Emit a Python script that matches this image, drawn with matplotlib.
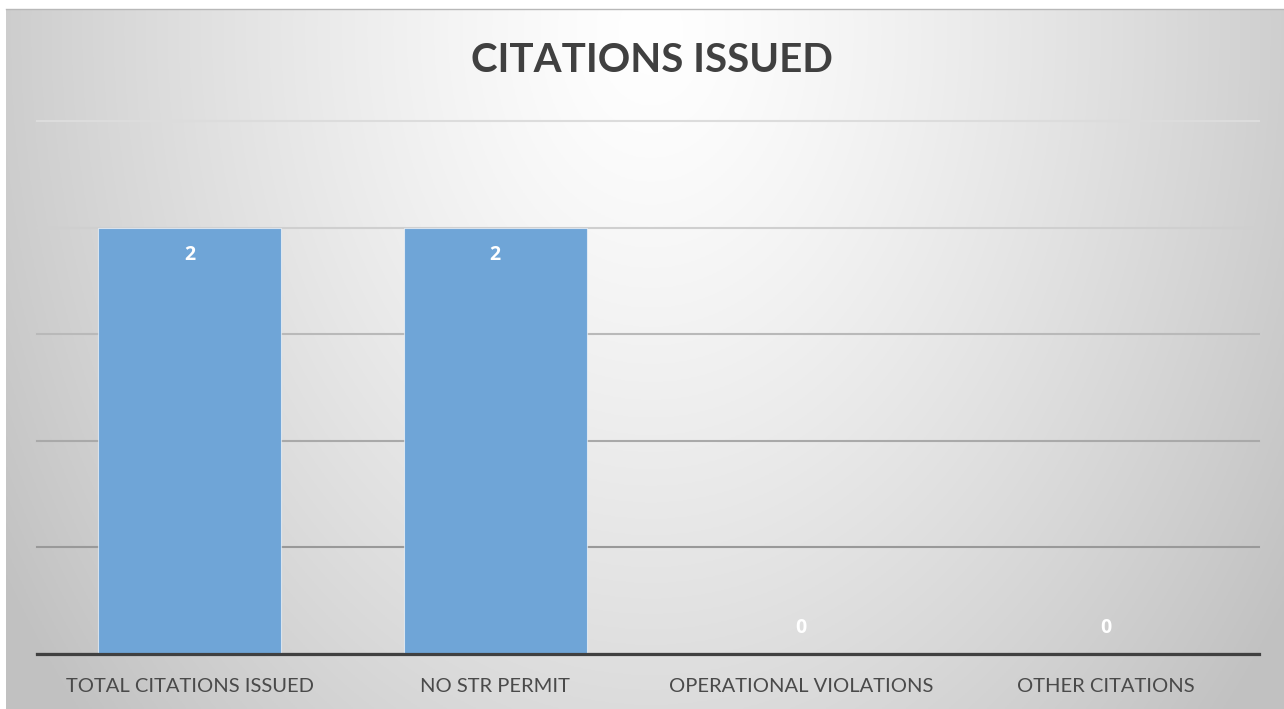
import numpy as np
import matplotlib
matplotlib.use("Agg")
import matplotlib.pyplot as plt
from matplotlib.lines import Line2D

categories = ["TOTAL CITATIONS ISSUED", "NO STR PERMIT", "OPERATIONAL VIOLATIONS", "OTHER CITATIONS"]
values = [2, 2, 0, 0]
title = "CITATIONS ISSUED"
y_ticks = [0, 0.5, 1.0, 1.5, 2.0, 2.5]

W, H = 1284, 709
fig = plt.figure(figsize=(W / 100, H / 100), dpi=100)
fig.patch.set_facecolor("white")

# background gradient panel
bl, bb = 6 / W, 0.0
bw, bh = (W - 6) / W, (H - 9) / H
bg = fig.add_axes([bl, bb, bw, bh], zorder=0)
ny, nx = 350, 640
yy, xx = np.mgrid[0:ny, 0:nx]
px = xx / nx * (W - 6) + 6
py = yy / ny * (H - 9) + 9
dx = (px - 650) / 660
dy = (py - 30) / 900
r = np.sqrt(dx ** 2 + dy ** 2)
r = np.clip(r, 0, 1.15)
v = 1.0 - 0.20 * r ** 1.3
img = np.dstack([v, v, v])
bg.imshow(img, aspect="auto", extent=[0, 1, 0, 1], origin="upper")
bg.set_xlim(0, 1)
bg.set_ylim(0, 1)
bg.axis("off")
fig.add_artist(Line2D([bl, 1], [bh, bh], transform=fig.transFigure, color="#b8b8b8", lw=1.0, zorder=1))

# main axes
left, right = 37 / W, 1259 / W
bottom, top = 1 - 654 / H, 1 - 121 / H
ax = fig.add_axes([left, bottom, right - left, top - bottom], zorder=2)
ax.set_facecolor("none")

x = np.arange(len(categories))
bars = ax.bar(x, values, width=0.6, color="#6fa5d7", edgecolor=(1, 1, 1, 0.6), linewidth=0.8, zorder=3)

ax.set_xlim(-0.5, len(categories) - 0.5)
ax.set_ylim(0, 2.5)
ax.set_yticks(y_ticks)
ax.yaxis.grid(True, linewidth=1.5, zorder=1)
ax.set_axisbelow(True)
grid_cols = ["#404040", "#999999", "#a9a9a9", "#b9b9b9", "#cfcfcf", "#dcdcdc"]
for gl, c in zip(ax.get_ygridlines(), grid_cols):
    gl.set_color(c)
    gl.set_clip_on(False)
ax.tick_params(axis="y", left=False, labelleft=False)
ax.tick_params(axis="x", bottom=False, pad=13.5)
for s in ["top", "right", "left"]:
    ax.spines[s].set_visible(False)
ax.spines["bottom"].set_color("#404040")
ax.spines["bottom"].set_linewidth(2.3)
ax.spines["bottom"].set_zorder(4)

ax.set_xticks(x)
ax.set_xticklabels(categories, fontfamily="Lato", fontsize=14.5, color="#4a4a4a")

for xi, val in zip(x, values):
    off = -19.5 if val > 0 else 19
    ax.annotate(str(val), (xi, val), xytext=(0, off), textcoords="offset points",
                ha="center", va="center", color="white", fontsize=14,
                fontweight="bold", fontfamily="Open Sans", zorder=5)

fig.text(0.5 * (bl + 1) + 7 / W, 1 - 61 / H, title, ha="center", va="center",
         fontsize=29, fontweight="bold", fontfamily="Lato", color="#404040")

fig.savefig("out.png", dpi=100)
